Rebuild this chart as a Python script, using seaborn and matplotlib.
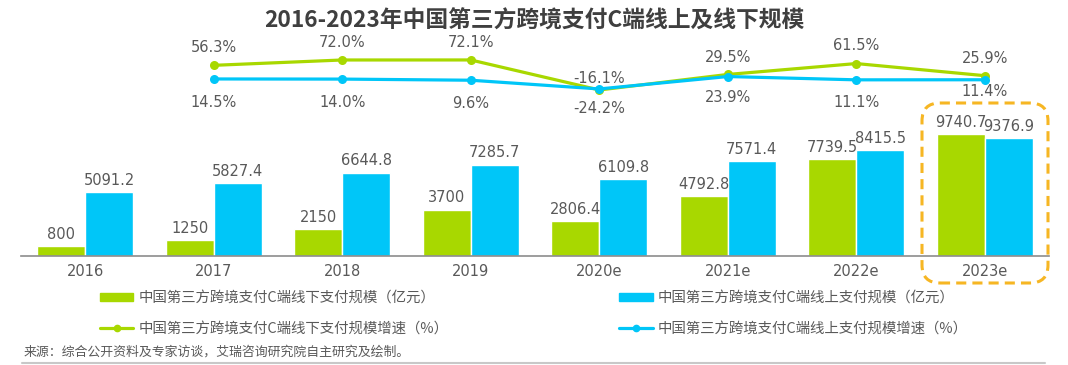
import numpy as np
import pandas as pd
import matplotlib
matplotlib.use('Agg')
import matplotlib.pyplot as plt
import seaborn as sns
from matplotlib.patches import Patch, FancyBboxPatch
from matplotlib.lines import Line2D

# Data
years = ['2016', '2017', '2018', '2019', '2020e', '2021e', '2022e', '2023e']
offline_scale = [800, 1250, 2150, 3700, 2806.4, 4792.8, 7739.5, 9740.7]
online_scale = [5091.2, 5827.4, 6644.8, 7285.7, 6109.8, 7571.4, 8415.5, 9376.9]
growth_years = ['2017', '2018', '2019', '2020e', '2021e', '2022e', '2023e']
offline_growth = [56.3, 72.0, 72.1, -16.1, 29.5, 61.5, 25.9]
online_growth = [14.5, 14.0, 9.6, -24.2, 23.9, 11.1, 11.4]

name_offline = '中国第三方跨境支付C端线下支付规模（亿元）'
name_online = '中国第三方跨境支付C端线上支付规模（亿元）'
name_offline_g = '中国第三方跨境支付C端线下支付规模增速（%）'
name_online_g = '中国第三方跨境支付C端线上支付规模增速（%）'
title = '2016-2023年中国第三方跨境支付C端线上及线下规模'
source = '来源：综合公开资料及专家访谈，艾瑞咨询研究院自主研究及绘制。'

green = '#a8d800'
cyan = '#00c6f8'
gold = '#f6b623'
text_gray = '#595959'

sns.set_style('white')
plt.rcParams['font.family'] = ['DejaVu Sans', 'Noto Sans CJK SC']
cjk = ['Noto Sans CJK SC', 'DejaVu Sans']

df = pd.DataFrame({
    'year': years * 2,
    'value': offline_scale + online_scale,
    'type': [name_offline] * len(years) + [name_online] * len(years),
})

W, H = 1068, 365
fig = plt.figure(figsize=(W / 100, H / 100), dpi=100)

# bars
ax = fig.add_axes([21 / W, 1 - 256 / H, 1028 / W, 156 / H])
sns.barplot(data=df, x='year', y='value', hue='type', palette=[green, cyan],
            width=0.75, saturation=1, ax=ax, legend=False)
ax.set_ylim(0, 12430)
ax.set_xlim(-0.5, len(years) - 0.5)
ax.set_xlabel('')
ax.set_ylabel('')
ax.set_yticks([])
for s in ['top', 'right', 'left']:
    ax.spines[s].set_visible(False)
ax.spines['bottom'].set_color('#8c8c8c')
ax.spines['bottom'].set_linewidth(1.2)
ax.tick_params(axis='x', length=0, pad=6, labelsize=10.5, labelcolor=text_gray)
for cont in ax.containers:
    vals = cont.datavalues
    ax.bar_label(cont, labels=[f'{v:g}' for v in vals], padding=3,
                 fontsize=10.5, color=text_gray)

# growth lines
x_pos = [years.index(y) for y in growth_years]
ax_g = fig.add_axes([21 / W, 1 - 110 / H, 1028 / W, 70 / H])
ax_c = ax_g.twinx()
sns.lineplot(x=x_pos, y=offline_growth, ax=ax_g, color=green, lw=2.3,
             marker='o', markersize=6.5, markeredgewidth=0)
sns.lineplot(x=x_pos, y=online_growth, ax=ax_c, color=cyan, lw=2.3,
             marker='o', markersize=6.5, markeredgewidth=0)
ax_g.set_ylim(-74.9, 130.7)
ax_c.set_ylim(-105.8, 165.5)
for a in (ax_g, ax_c):
    a.set_xlim(ax.get_xlim())
    a.axis('off')

g_off = [13, 12.5, 12.5, 8.5, 12.5, 13, 12.5]
c_off = [-17, -17, -16.5, -14, -15, -16.5, -8.5]
for x, v, o in zip(x_pos, offline_growth, g_off):
    ax_g.annotate(f'{v:.1f}%', (x, v), xytext=(0, o), textcoords='offset points',
                  ha='center', va='center', fontsize=10.5, color=text_gray)
for x, v, o in zip(x_pos, online_growth, c_off):
    ax_c.annotate(f'{v:.1f}%', (x, v), xytext=(0, o), textcoords='offset points',
                  ha='center', va='center', fontsize=10.5, color=text_gray)

# title and source
fig.text(0.5, 1 - 21 / H, title, ha='center', va='center', fontsize=16.4,
         fontweight='bold', color='#3f3f3f', family=cjk)
fig.text(24 / W, 1 - 352 / H, source, ha='left', va='center', fontsize=9.3,
         color=text_gray, family=cjk)
fig.add_artist(Line2D([22 / W, 1045 / W], [1 - 363 / H, 1 - 363 / H],
                      color='#c8c8c8', lw=1.5, transform=fig.transFigure))

# legend
handles = [
    Patch(color=green, label=name_offline),
    Line2D([], [], color=green, lw=2.3, marker='o', ms=4.5, label=name_offline_g),
    Patch(color=cyan, label=name_online),
    Line2D([], [], color=cyan, lw=2.3, marker='o', ms=4.5, label=name_online_g),
]
fig.legend(handles=handles, ncol=2, loc='upper left',
           bbox_to_anchor=(100 / W, 1 - 291 / H), frameon=False,
           borderpad=0, borderaxespad=0, handlelength=2.3, handleheight=0.55,
           handletextpad=0.35, columnspacing=11.85, labelspacing=1.15,
           prop={'family': cjk, 'size': 10.4}, labelcolor=text_gray)

# dashed highlight around 2023e
box = FancyBboxPatch((9.22, 0.82), 1.26, 1.80,
                     boxstyle='round,pad=0,rounding_size=0.18',
                     transform=fig.dpi_scale_trans, fill=False, ec=gold,
                     lw=2.2, ls=(0, (3.3, 2)))
fig.add_artist(box)

fig.savefig('out.png', dpi=100)
